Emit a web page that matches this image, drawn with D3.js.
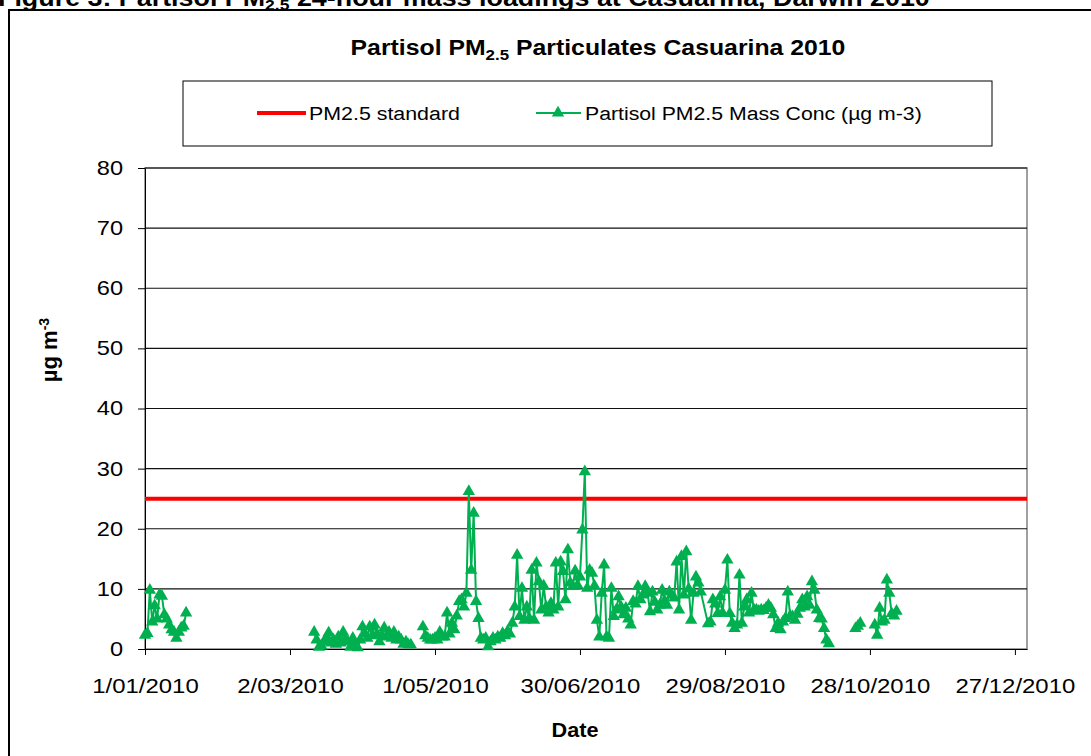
<!DOCTYPE html>
<html>
<head>
<meta charset="utf-8">
<script src="https://cdn.jsdelivr.net/npm/d3@7"></script>
<style>
  body { margin: 0; background: #fff; }
  svg { display: block; font-family: 'Liberation Sans', Arial, sans-serif; }
  .axis path, .axis line { stroke: #000; }
  .axis text { fill: #000; }
  .axis-x text { font-size: 21px; }
  .axis-y text { font-size: 20px; }
</style>
</head>
<body>
<svg id="chart" width="1091" height="756"></svg>
<script>
// daily Partisol PM2.5 mass (ug m-3); null marks a break in the line
const dates = [
  // January
  "2010-01-01","2010-01-02","2010-01-03","2010-01-04","2010-01-05","2010-01-06","2010-01-07",
  "2010-01-08","2010-01-09","2010-01-10","2010-01-11","2010-01-12","2010-01-13","2010-01-14",
  "2010-01-15","2010-01-16","2010-01-17","2010-01-18","2010-01-19",
  // March
  "2010-03-12","2010-03-13","2010-03-14","2010-03-15","2010-03-16","2010-03-17","2010-03-18",
  "2010-03-19","2010-03-20","2010-03-21","2010-03-22","2010-03-23","2010-03-24","2010-03-25",
  "2010-03-26","2010-03-27","2010-03-28","2010-03-29","2010-03-30","2010-03-31",
  // April
  "2010-04-01","2010-04-02","2010-04-03","2010-04-04","2010-04-05","2010-04-06","2010-04-07",
  "2010-04-08","2010-04-09","2010-04-10","2010-04-11","2010-04-12","2010-04-13","2010-04-14",
  "2010-04-15","2010-04-16","2010-04-17","2010-04-18","2010-04-19","2010-04-20","2010-04-21",
  "2010-04-22","2010-04-26","2010-04-27","2010-04-28","2010-04-29","2010-04-30",
  // May
  "2010-05-01","2010-05-02","2010-05-03","2010-05-04","2010-05-05","2010-05-06","2010-05-07",
  "2010-05-08","2010-05-09","2010-05-10","2010-05-11","2010-05-12","2010-05-13","2010-05-14",
  "2010-05-15","2010-05-16","2010-05-17","2010-05-18","2010-05-19","2010-05-20","2010-05-21",
  "2010-05-22","2010-05-23","2010-05-24","2010-05-25","2010-05-26","2010-05-27","2010-05-28",
  "2010-05-29","2010-05-30","2010-05-31",
  // June
  "2010-06-01","2010-06-02","2010-06-03","2010-06-04","2010-06-05","2010-06-06","2010-06-07",
  "2010-06-08","2010-06-09","2010-06-10","2010-06-11","2010-06-12","2010-06-13","2010-06-14",
  "2010-06-15","2010-06-16","2010-06-17","2010-06-18","2010-06-19","2010-06-20","2010-06-21",
  "2010-06-22","2010-06-23","2010-06-24","2010-06-25","2010-06-26","2010-06-27","2010-06-28",
  "2010-06-29","2010-06-30",
  // July
  "2010-07-01","2010-07-02","2010-07-03","2010-07-04","2010-07-05","2010-07-06","2010-07-07",
  "2010-07-08","2010-07-09","2010-07-10","2010-07-11","2010-07-12","2010-07-13","2010-07-14",
  "2010-07-15","2010-07-16","2010-07-17","2010-07-18","2010-07-19","2010-07-20","2010-07-21",
  "2010-07-22","2010-07-23","2010-07-24","2010-07-25","2010-07-26","2010-07-27","2010-07-28",
  "2010-07-29","2010-07-30","2010-07-31",
  // August
  "2010-08-01","2010-08-02","2010-08-03","2010-08-04","2010-08-05","2010-08-06","2010-08-07",
  "2010-08-08","2010-08-09","2010-08-10","2010-08-11","2010-08-12","2010-08-13","2010-08-14",
  "2010-08-15","2010-08-16","2010-08-17","2010-08-18","2010-08-19",
  "2010-08-22","2010-08-23","2010-08-24","2010-08-25","2010-08-26","2010-08-27","2010-08-28",
  "2010-08-29","2010-08-30","2010-08-31",
  // September
  "2010-09-01","2010-09-02","2010-09-03","2010-09-04","2010-09-05","2010-09-06","2010-09-07",
  "2010-09-08","2010-09-09","2010-09-10","2010-09-11","2010-09-12","2010-09-13","2010-09-14",
  "2010-09-15","2010-09-16","2010-09-17","2010-09-18","2010-09-19","2010-09-20","2010-09-21",
  "2010-09-22","2010-09-23","2010-09-24","2010-09-25","2010-09-26","2010-09-27","2010-09-28",
  "2010-09-29","2010-09-30",
  // October
  "2010-10-01","2010-10-02","2010-10-03","2010-10-04","2010-10-05","2010-10-06","2010-10-07",
  "2010-10-08","2010-10-09","2010-10-10","2010-10-11","2010-10-12",
  "2010-10-22","2010-10-23","2010-10-24","2010-10-25","2010-10-30","2010-10-31",
  // November
  "2010-11-01","2010-11-02","2010-11-03","2010-11-04","2010-11-05","2010-11-06","2010-11-07",
  "2010-11-08"
];

const pm25 = [
  // January
  2.3, 2.6, 9.8, 4.5, 7.2, 5.0, 9.0,
  8.8, 5.7, 5.0, 4.0, 3.2, 2.8, 1.8,
  2.8, 3.5, 3.8, 6.0, null,
  // March
  2.8, 1.5, 0.3, 0.5, 1.2, 1.8, 2.7,
  1.0, 1.5, 0.8, 2.0, 1.0, 2.8, 1.5,
  1.2, 0.3, 1.8, 0.8, 0.2, 1.5,
  // April
  3.7, 2.5, 1.8, 3.7, 2.2, 4.0, 2.5,
  1.2, 2.2, 3.5, 2.0, 2.8, 1.8, 2.8,
  1.5, 2.0, 1.5, 0.8, 1.2, 0.7, 0.7,
  null, 3.7, 2.2, 1.8, 1.5, 1.5,
  // May
  1.8, 1.5, 2.8, 2.0, 2.0, 6.0, 2.5,
  4.3, 3.2, 5.5, 7.9, 8.2, 7.0, 9.3,
  26.2, 13.1, 22.6, 7.9, 5.1, 1.8, 1.5,
  1.8, 0.4, 1.2, 1.8, 1.5, 2.0, 1.8,
  2.6, 2.2, 2.9,
  // June
  2.5, 4.3, 7.0, 15.6, 5.4, 10.1, 4.8,
  7.0, 5.1, 13.1, 4.8, 14.3, 11.2, 6.5,
  10.5, 7.0, 6.0, 7.6, 6.5, 14.3, 7.0,
  14.5, 12.9, 8.2, 16.5, 11.0, 10.4, 13.0,
  10.6, 12.0,
  // July
  19.8, 29.5, 10.1, 13.1, 12.6, 10.5, 4.8,
  2.0, 9.3, 14.0, 2.0, 1.8, 10.1, 5.4,
  6.5, 8.7, 7.0, 5.7, 6.8, 5.0, 4.0,
  7.9, 7.5, 10.4, 8.2, 9.0, 10.4, 9.3,
  6.2, 9.5, 7.8,
  // August
  6.5, 7.3, 9.8, 8.0, 7.3, 9.5, 9.0,
  8.5, 14.5, 6.5, 15.4, 9.0, 16.2, 10.0,
  4.8, 9.3, 12.0, 11.0, 9.5,
  4.2, 4.5, 8.2, 7.5, 5.9, 8.7, 6.0,
  9.8, 14.8, 5.9,
  // September
  4.3, 3.4, 4.0, 12.3, 4.3, 7.0, 8.2,
  6.0, 9.3, 6.5, 6.5, 6.3, 6.5, 6.4,
  6.8, 7.3, 6.8, 5.7, 3.4, 4.3, 3.2,
  4.5, 5.1, 9.5, 5.5, 5.4, 4.8, 5.8,
  6.8, 8.2,
  // October
  7.0, 8.7, 7.3, 11.2, 9.8, 6.5, 5.1,
  5.0, 3.4, 1.5, 0.9, null,
  3.4, 3.8, 4.3, null, 4.0, 2.3,
  // November
  6.8, 4.5, 4.8, 11.5, 9.3, 5.9, 5.5,
  6.3
];

const standard = 25;
const yTicks = [0, 10, 20, 30, 40, 50, 60, 70, 80];
const xTickDates = ["2010-01-01", "2010-03-02", "2010-05-01", "2010-06-30", "2010-08-29", "2010-10-28", "2010-12-27"];
const xTickLabels = ["1/01/2010", "2/03/2010", "1/05/2010", "30/06/2010", "29/08/2010", "28/10/2010", "27/12/2010"];

const parse = d3.utcParse('%Y-%m-%d');
const data = dates.map(function(d, i) { return {date: parse(d), value: pm25[i]}; });

const svg = d3.select('#chart');
const plot = {left: 145, right: 1027, top: 168, bottom: 649};

const x = d3.scaleUtc()
  .domain([parse('2010-01-01'), parse('2011-01-01')])
  .range([plot.left, plot.right]);
const y = d3.scaleLinear()
  .domain([0, 80])
  .range([plot.bottom, plot.top]);

// the source image is a little wider than tall, so stretch text sideways
// around its own anchor x
function stretchX(sel, k) {
  sel.each(function() {
    const t = d3.select(this);
    const ax = +t.attr('x') || 0;
    const prev = t.attr('transform') || '';
    t.attr('transform', prev + ' translate(' + ax + ',0) scale(' + k + ',1) translate(' + (-ax) + ',0)');
  });
}
function fitWidth(sel, w) {
  const bw = sel.node().getBBox().width;
  stretchX(sel, w / bw);
}

// outer chart frame (runs off the right and bottom of the crop)
svg.append('rect')
  .attr('x', 9).attr('y', 10)
  .attr('width', 1100).attr('height', 770)
  .attr('fill', 'none')
  .attr('stroke', '#000')
  .attr('stroke-width', 2);

// figure caption, mostly cropped off the top
const caption = svg.append('text')
  .attr('x', -2).attr('y', 6)
  .style('font-size', '23px').style('font-weight', 'bold');
caption.append('tspan').text('Figure 3: Partisol PM');
caption.append('tspan').attr('baseline-shift', '-25%').style('font-size', '15px').text('2.5');
caption.append('tspan').text(' 24-hour mass loadings at Casuarina, Darwin 2010');
fitWidth(caption, 932);

// chart title
const title = svg.append('text')
  .attr('x', 598).attr('y', 55)
  .attr('text-anchor', 'middle')
  .style('font-size', '22px').style('font-weight', 'bold');
title.append('tspan').text('Partisol PM');
title.append('tspan').attr('baseline-shift', '-30%').style('font-size', '15px').text('2.5');
title.append('tspan').text('  Particulates Casuarina 2010');
fitWidth(title, 495);

// plot area border
svg.append('rect')
  .attr('x', plot.left).attr('y', plot.top)
  .attr('width', plot.right - plot.left).attr('height', plot.bottom - plot.top)
  .attr('fill', 'none')
  .attr('stroke', '#808080')
  .attr('stroke-width', 1.5);

// gridlines
svg.append('g')
  .selectAll('line')
  .data(yTicks.filter(function(t) { return t > 0; }))
  .enter().append('line')
  .attr('x1', plot.left).attr('x2', plot.right)
  .attr('y1', function(d) { return y(d); })
  .attr('y2', function(d) { return y(d); })
  .attr('stroke', '#111')
  .attr('stroke-width', 1.2);

// axes
const gx = svg.append('g')
  .attr('class', 'axis axis-x')
  .attr('transform', 'translate(0,' + plot.bottom + ')')
  .call(d3.axisBottom(x)
    .tickValues(xTickDates.map(parse))
    .tickFormat(function(d, i) { return xTickLabels[i]; })
    .tickSizeInner(6).tickSizeOuter(0).tickPadding(23));
stretchX(gx.selectAll('text'), 1.14);

const gy = svg.append('g')
  .attr('class', 'axis axis-y')
  .attr('transform', 'translate(' + plot.left + ',0)')
  .call(d3.axisLeft(y)
    .tickValues(yTicks)
    .tickSizeInner(7).tickSizeOuter(0).tickPadding(15));
stretchX(gy.selectAll('text'), 1.18);

// PM2.5 standard line
svg.append('line')
  .attr('x1', plot.left).attr('x2', plot.right)
  .attr('y1', y(standard)).attr('y2', y(standard))
  .attr('stroke', '#ff0000')
  .attr('stroke-width', 4);

// measured series
const green = '#00b050';
const line = d3.line()
  .defined(function(d) { return d.value !== null; })
  .x(function(d) { return x(d.date); })
  .y(function(d) { return y(d.value); });

svg.append('path')
  .datum(data)
  .attr('d', line)
  .attr('fill', 'none')
  .attr('stroke', green)
  .attr('stroke-width', 2);

const tri = d3.symbol().type(d3.symbolTriangle).size(66);
svg.append('g')
  .selectAll('path')
  .data(data.filter(function(d) { return d.value !== null; }))
  .enter().append('path')
  .attr('d', tri)
  .attr('transform', function(d) { return 'translate(' + x(d.date) + ',' + y(d.value) + ')'; })
  .attr('fill', green);

// axis titles
const xlab = svg.append('text')
  .attr('x', 575).attr('y', 737)
  .attr('text-anchor', 'middle')
  .style('font-size', '20px').style('font-weight', 'bold')
  .text('Date');
fitWidth(xlab, 47);

const ylab = svg.append('text')
  .attr('transform', 'translate(57,350) rotate(-90)')
  .attr('text-anchor', 'middle')
  .style('font-size', '22px').style('font-weight', 'bold');
ylab.append('tspan').text('µg m');
ylab.append('tspan').attr('baseline-shift', 'super').style('font-size', '14px').text('-3');

// legend
const legend = svg.append('g');
legend.append('rect')
  .attr('x', 183).attr('y', 81)
  .attr('width', 809).attr('height', 65)
  .attr('fill', '#fff')
  .attr('stroke', '#000');
legend.append('line')
  .attr('x1', 257).attr('x2', 306).attr('y1', 113).attr('y2', 113)
  .attr('stroke', '#ff0000').attr('stroke-width', 4);
const leg1 = legend.append('text')
  .attr('x', 309).attr('y', 120)
  .style('font-size', '19px')
  .text('PM2.5 standard');
fitWidth(leg1, 151);
legend.append('line')
  .attr('x1', 536).attr('x2', 581).attr('y1', 113).attr('y2', 113)
  .attr('stroke', green).attr('stroke-width', 2);
legend.append('path')
  .attr('d', tri)
  .attr('transform', 'translate(558,113)')
  .attr('fill', green);
const leg2 = legend.append('text')
  .attr('x', 585).attr('y', 120)
  .style('font-size', '19px')
  .text('Partisol PM2.5 Mass Conc (µg m-3)');
fitWidth(leg2, 337);
</script>
</body>
</html>
